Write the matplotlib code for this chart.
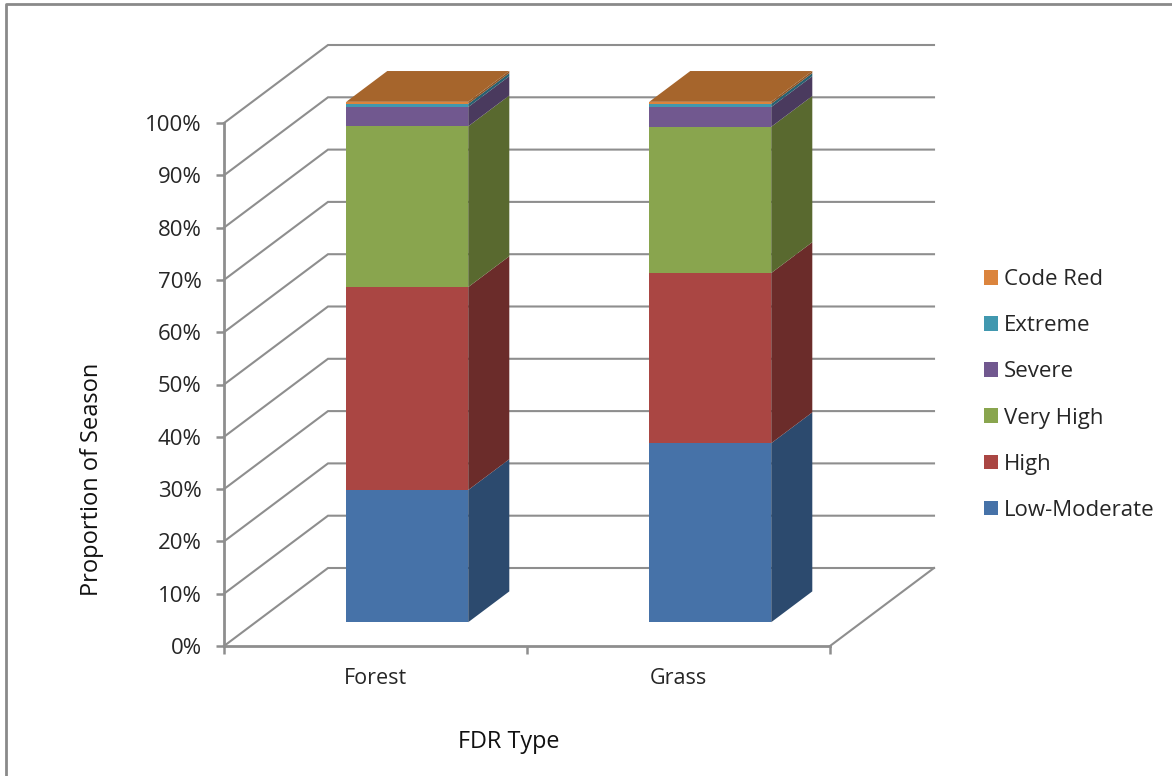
#Stacked 3D-look column chart of fire danger rating across the season
import numpy as np
from matplotlib import pyplot as plt
from matplotlib.lines import Line2D
from matplotlib.patches import Polygon, Rectangle

plt.rcParams['font.family'] = ['Open Sans', 'DejaVu Sans']

fdr_types = ['Forest', 'Grass']
ratings = ['Low-Moderate', 'High', 'Very High', 'Severe', 'Extreme', 'Code Red']
forest = [25.4, 39.0, 30.9, 3.7, 0.6, 0.4]
grass = [34.4, 32.7, 28.1, 3.8, 0.6, 0.4]
y_ticks = [0, 10, 20, 30, 40, 50, 60, 70, 80, 90, 100]

front_colors = ['#4672A8', '#AA4643', '#89A54E', '#71588F', '#4198AF', '#DB843D']
side_colors = ['#2C4A6E', '#6B2C2A', '#59692F', '#4A3A5E', '#286070', '#8F5526']
top_color = '#A6652C'
grid_color = '#8E8E8E'

W, H = 1172, 776
fig = plt.figure(figsize=(W / 100, H / 100), dpi=100)
ax = fig.add_axes([224 / W, (H - 646) / H, 606 / W, 523 / H])
ax.set_xlim(0, 2)
ax.set_ylim(0, 100)
ax.patch.set_visible(False)
for s in ax.spines.values():
    s.set_visible(False)

# depth of the fake 3D box, in data units
depth_x = 104 / 303
depth_y = 78 / 5.23

# walls and floor
for t in y_ticks:
    ax.plot([0, depth_x, 2 + depth_x], [t, t + depth_y, t + depth_y], color=grid_color, lw=1.5,
            clip_on=False, zorder=1, solid_joinstyle='miter')
ax.plot([2, 2 + depth_x], [0, depth_y], color=grid_color, lw=1.5, clip_on=False, zorder=1)
ax.plot([0, 0], [0, 100], color=grid_color, lw=2, clip_on=False, zorder=2)
ax.plot([0, 2], [0, 0], color=grid_color, lw=2, clip_on=False, zorder=2)

ax.set_xticks([0, 1, 2])
ax.set_xticklabels([])
ax.set_yticks(y_ticks)
ax.set_yticklabels(['%d%%' % t for t in y_ticks], fontsize=16, color='#262626')
ax.tick_params(axis='both', length=6, width=1.8, color=grid_color)
ax.tick_params(axis='y', pad=10)

for i, name in enumerate(fdr_types):
    ax.text(i + 0.5, -6.2, name, ha='center', va='center', fontsize=15.5, color='#262626')


# the columns sit part way into the box
bar_width = 122 / 303
bar_depth = 0.395
bar_scale = 0.995


def draw_column(center, values):
    left = center + 0.305 * depth_x - bar_width / 2
    right = left + bar_width
    base = 0.305 * depth_y
    dx = bar_depth * depth_x
    dy = bar_depth * depth_y
    tops = np.cumsum(values) * bar_scale + base
    bottoms = tops - np.array(values) * bar_scale
    for b, t, c, sc in zip(bottoms, tops, front_colors, side_colors):
        ax.add_patch(Rectangle((left, b), bar_width, t - b, fc=c, ec='none', clip_on=False, zorder=4))
        ax.add_patch(Polygon([(right, b), (right + dx, b + dy), (right + dx, t + dy), (right, t)],
                             fc=sc, ec='none', clip_on=False, zorder=3))
    ax.add_patch(Polygon([(left, tops[-1]), (left + dx, tops[-1] + dy),
                          (right + dx, tops[-1] + dy), (right, tops[-1])],
                         fc=top_color, ec='none', clip_on=False, zorder=3))


draw_column(0.5, forest)
draw_column(1.5, grass)

# legend, top entry is the last series
handles = [Rectangle((0, 0), 1, 1, fc=c, ec='none') for c in front_colors[::-1]]
fig.legend(handles, ratings[::-1], loc='center left', bbox_to_anchor=(984 / W, 1 - 395 / H),
           frameon=False, fontsize=16, labelcolor='#262626', handlelength=0.63, handleheight=0.63,
           handletextpad=0.27, labelspacing=1.13, borderpad=0, borderaxespad=0)

fig.text(92 / W, 1 - 479 / H, 'Proportion of Season', rotation=90, ha='center', va='center',
         fontsize=17, color='#111111')
fig.text(509 / W, 1 - 741.5 / H, 'FDR Type', ha='center', va='center', fontsize=16.8, color='#111111')

# chart frame, runs off the top right of the page
fig.add_artist(Line2D([6 / W, 6 / W, 1], [0, 1 - 4 / H, 1 - 4 / H], color='#8A8A8A', lw=2))

plt.savefig('out.png', dpi=100)
